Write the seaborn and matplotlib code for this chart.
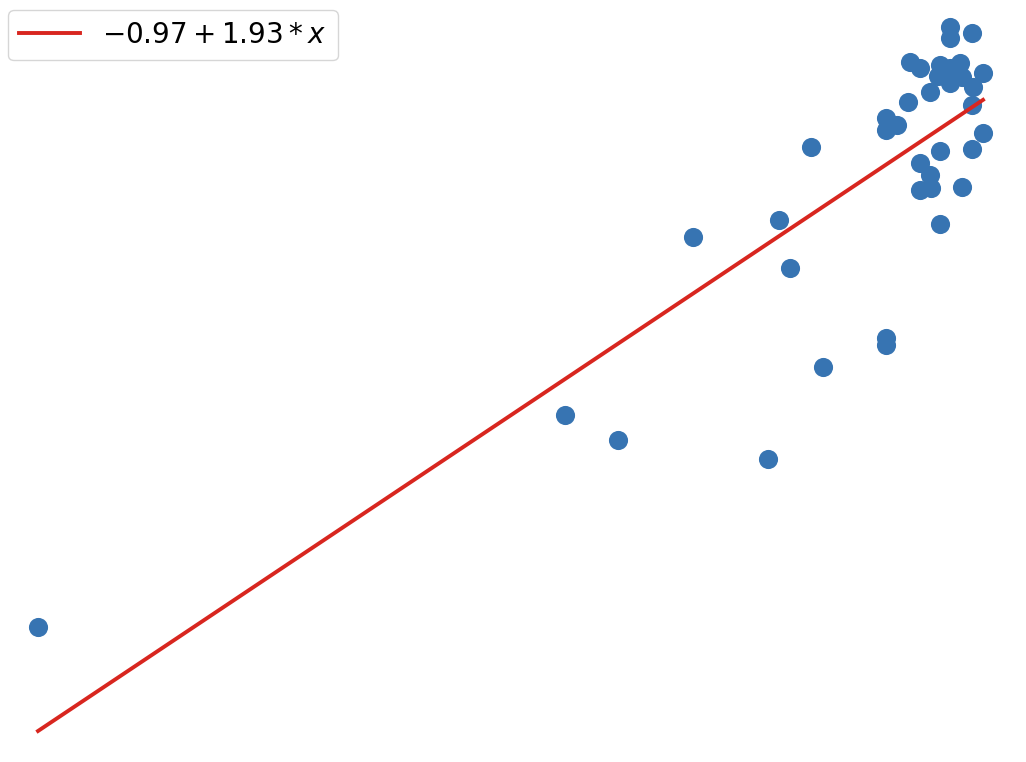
import numpy as np
import pandas as pd
import matplotlib
matplotlib.use("Agg")
import matplotlib.pyplot as plt
import seaborn as sns

# Observed points
x_vals = [0.800, 1.469, 1.537, 1.727, 1.797, 1.877, 1.877, 1.632, 1.741, 1.755,
          1.782, 1.958, 1.958, 1.986, 1.907, 1.920, 1.945, 1.943, 1.958, 1.971,
          1.973, 2.000, 1.987, 1.933, 1.905, 1.986, 1.877, 1.891, 1.877, 2.000,
          1.986, 1.945, 1.920, 1.933, 1.920, 1.934, 1.973, 1.945, 1.958]
y_vals = [0.956, 1.734, 1.642, 1.572, 1.910, 2.016, 1.991, 2.387, 2.449, 2.273,
          2.717, 3.157, 3.117, 3.135, 3.029, 3.007, 3.018, 2.978, 2.952, 3.025,
          2.974, 2.989, 2.937, 2.919, 2.882, 2.871, 2.824, 2.798, 2.780, 2.769,
          2.710, 2.702, 2.658, 2.614, 2.559, 2.567, 2.570, 2.435, 3.007]

# Fitted regression line
intercept = -0.97
slope = 1.93
label = r"$-0.97 + 1.93 * x$"

df = pd.DataFrame({"x": x_vals, "y": y_vals})
fit_x = np.array([min(x_vals), max(x_vals)])
fit_df = pd.DataFrame({"x": fit_x, "y": intercept + slope * fit_x})

fig = plt.figure(figsize=(10.26, 7.62), dpi=100)
ax = fig.add_axes([0, 0, 1, 1])

sns.scatterplot(data=df, x="x", y="y", ax=ax, s=190, color="#3774b2",
                linewidth=0, zorder=2)
sns.lineplot(data=fit_df, x="x", y="y", ax=ax, color="#d8261f", lw=2.8,
             label=label, zorder=3)

ax.set_xlim(0.7517, 2.0546)
ax.set_ylim(0.4602, 3.2566)
ax.axis("off")

ax.legend(loc="upper left", bbox_to_anchor=(0.0078, 0.9869), borderaxespad=0,
          fontsize=20, handlelength=2.2, handletextpad=0.8, frameon=True)

fig.savefig("out.png", dpi=100)
